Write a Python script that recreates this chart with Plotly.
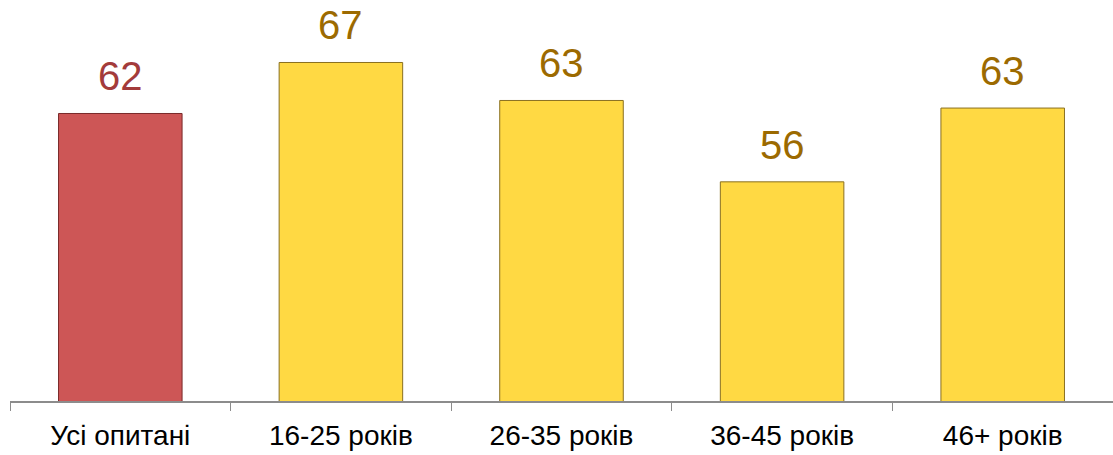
import plotly.graph_objects as go

categories = ["Усі опитані", "16-25 років", "26-35 років", "36-45 років", "46+ років"]
values = [62.2, 66.9, 63.4, 55.9, 62.7]
labels = ["62", "67", "63", "56", "63"]
bar_colors = ["#CD5656", "#FFD943", "#FFD943", "#FFD943", "#FFD943"]
line_colors = ["#7A2A2A", "#8A7020", "#8A7020", "#8A7020", "#8A7020"]
label_colors = ["#A33B3B", "#9C6A00", "#9C6A00", "#9C6A00", "#9C6A00"]

fig = go.Figure()
fig.add_trace(go.Bar(
    x=categories, y=values,
    marker=dict(color=bar_colors, line=dict(color=line_colors, width=1)),
    hoverinfo="skip",
))

for c, v, t, col in zip(categories, values, labels, label_colors):
    fig.add_annotation(x=c, y=v, text=t, showarrow=False, yanchor="bottom",
                       yshift=13, font=dict(family="Liberation Sans, Arial", size=40, color=col))

fig.update_layout(
    width=1113, height=455,
    margin=dict(l=10, r=0, t=0, b=54),
    plot_bgcolor="white", paper_bgcolor="white",
    bargap=0.44,
    showlegend=False,
    xaxis=dict(showline=True, linecolor="#8C8C8C", linewidth=2,
               ticks="outside", ticklen=8, tickcolor="#8C8C8C", tickwidth=1,
               tickson="boundaries", ticklabelstandoff=8,
               tickfont=dict(family="Liberation Sans, Arial", size=28, color="black")),
    yaxis=dict(range=[35.7, 72.66], visible=False, showgrid=False),
)

fig.write_html("out.html")
